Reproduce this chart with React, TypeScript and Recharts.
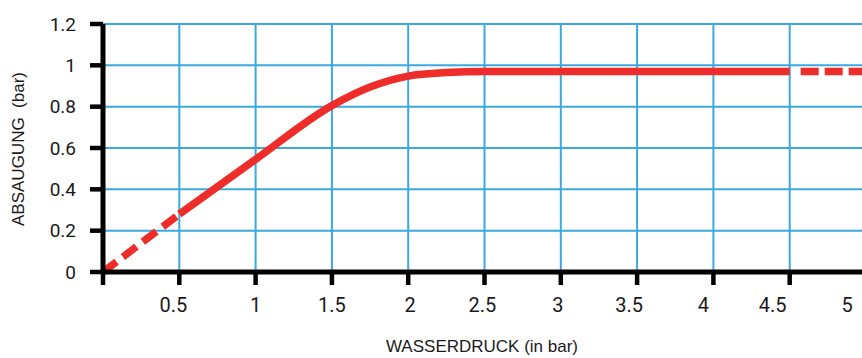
import { LineChart, Line, XAxis, YAxis, CartesianGrid } from "recharts";

// dashed lead-in from the origin
const LEAD_X = [0, 0.5];
const LEAD_Y = [0, 0.28];

// main (solid) curve
const CURVE_X = [0.5, 1, 1.5, 1.75, 2, 2.25, 2.5, 3, 3.5, 4, 4.5];
const CURVE_Y = [0.28, 0.545, 0.805, 0.895, 0.948, 0.965, 0.97, 0.97, 0.97, 0.97, 0.97];

// dashed tail
const TAIL_X = [4.5, 5];
const TAIL_Y = [0.97, 0.97];

const X_TICKS = [0, 0.5, 1, 1.5, 2, 2.5, 3, 3.5, 4, 4.5, 5];
const Y_TICKS = [0, 0.2, 0.4, 0.6, 0.8, 1, 1.2];

const X_TITLE = "WASSERDRUCK (in bar)";
const Y_TITLE = "ABSAUGUNG\u00a0 (bar)";

// the printed labels drift a little left of their ticks towards the right
const LABEL_NUDGE: Record<number, number> = {
  0.5: -6, 1: 0, 1.5: 0, 2: 2, 2.5: -2, 3: -3, 3.5: -8, 4: -10, 4.5: -17, 5: -19,
};

const toRows = (xs: number[], ys: number[]) => xs.map((x, i) => ({ x, y: ys[i] }));

const RED = "#ee2d2b";
const GRID = "#3ba9e0";
const TICK_FONT = "Roboto, sans-serif";
const TITLE_FONT = "'Liberation Sans', Arial, sans-serif";

function XTick(props: any) {
  const { x, y, payload } = props;
  const v = payload.value as number;
  if (v === 0) return null;
  return (
    <text
      x={x + (LABEL_NUDGE[v] ?? 0)}
      y={y}
      dy="0.71em"
      textAnchor="middle"
      fontSize={20}
      fontFamily={TICK_FONT}
      fill="#1a1a1a"
    >
      {v}
    </text>
  );
}

export default function App() {
  const lead = toRows(LEAD_X, LEAD_Y);
  const curve = toRows(CURVE_X, CURVE_Y);
  const tail = toRows(TAIL_X, TAIL_Y);

  return (
    <div
      style={{
        position: "absolute",
        left: 0,
        top: 0,
        width: 862,
        height: 358,
        overflow: "hidden",
        background: "#fff",
      }}
    >
      <LineChart width={867} height={358} margin={{ top: 24, right: 1, bottom: 26, left: 3 }}>
        <CartesianGrid stroke={GRID} strokeWidth={2} />
        <XAxis
          type="number"
          dataKey="x"
          domain={[0, 5]}
          ticks={X_TICKS}
          interval={0}
          height={60}
          tickSize={13}
          tickMargin={13}
          axisLine={{ stroke: "#000", strokeWidth: 5 }}
          tickLine={{ stroke: "#000", strokeWidth: 4.5 }}
          tick={<XTick />}
          label={{
            content: () => (
              <text
                x={482}
                y={352}
                textAnchor="middle"
                fontSize={17}
                fontFamily={TITLE_FONT}
                fill="#1a1a1a"
              >
                {X_TITLE}
              </text>
            ),
          }}
        />
        <YAxis
          type="number"
          domain={[0, 1.2]}
          ticks={Y_TICKS}
          interval={0}
          width={100}
          tickSize={13}
          tickMargin={14}
          axisLine={{ stroke: "#000", strokeWidth: 5 }}
          tickLine={{ stroke: "#000", strokeWidth: 4.5 }}
          tick={{ fontSize: 19, fontFamily: TICK_FONT, fill: "#1a1a1a" }}
          label={{
            content: () => (
              <text
                x={18}
                y={149}
                transform="rotate(-90 18 149)"
                textAnchor="middle"
                dominantBaseline="central"
                fontSize={17}
                fontFamily={TITLE_FONT}
                fill="#1a1a1a"
              >
                {Y_TITLE}
              </text>
            ),
          }}
        />
        <Line
          data={lead}
          dataKey="y"
          type="linear"
          stroke={RED}
          strokeWidth={7.5}
          strokeDasharray="17 8"
          dot={false}
          activeDot={false}
          isAnimationActive={false}
        />
        <Line
          data={curve}
          dataKey="y"
          type="monotone"
          stroke={RED}
          strokeWidth={7.5}
          dot={false}
          activeDot={false}
          isAnimationActive={false}
        />
        <Line
          data={tail}
          dataKey="y"
          type="linear"
          stroke={RED}
          strokeWidth={7.5}
          strokeDasharray="0 11 18 6 18 6 18 6 18 6"
          dot={false}
          activeDot={false}
          isAnimationActive={false}
        />
      </LineChart>
    </div>
  );
}
